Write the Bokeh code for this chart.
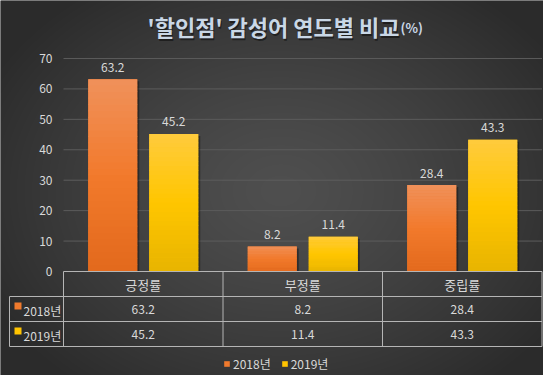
import numpy as np
from bokeh.plotting import figure
from bokeh.models import Range1d, ColumnDataSource, Legend, LegendItem
from bokeh.core.properties import value
from bokeh.embed import file_html
from bokeh.resources import INLINE

# ---------------- data ----------------
categories = ["긍정률", "부정률", "중립률"]
series_names = ["2018년", "2019년"]
values_2018 = [63.2, 8.2, 28.4]
values_2019 = [45.2, 11.4, 43.3]
y_ticks = [0, 10, 20, 30, 40, 50, 60, 70]
title_text = "'할인점' 감성어 연도별 비교"
title_unit = "(%)"

# ---------------- layout constants ----------------
FONT = "Noto Sans CJK KR"
W, H = 543, 375
PX_X = 159.5   # pixels per category
PX_Y = 3.043   # pixels per value unit
REF_X0, REF_Y0 = 63, 271   # reference pixel of (x=0, y=0)
PAGE = 0


def fx(px):
    return (px - REF_X0) / PX_X


def fy(py):
    return (REF_Y0 - py) / PX_Y


x_start, x_end = fx(PAGE), fx(PAGE + W)
y_top, y_bottom = fy(PAGE), fy(PAGE + H)

p = figure(width=W, height=H, output_backend="svg", toolbar_location=None,
           x_range=Range1d(x_start, x_end), y_range=Range1d(y_bottom, y_top),
           x_axis_location=None, y_axis_location=None, min_border=0)
p.grid.visible = False
p.outline_line_color = None
p.border_fill_color = "#333333"
p.background_fill_color = "#333333"

# ---------------- background radial gradient ----------------
yy, xx = np.mgrid[0:H, 0:W]
ref_x = xx + PAGE
ref_y = (H - 1 - yy) + PAGE
d = np.sqrt(((ref_x - 280) / 330.0) ** 2 + ((ref_y - 190) / 250.0) ** 2)
d = np.clip(d, 0, 1) ** 1.3
c = (0x4f + (0x2b - 0x4f) * d).astype(np.uint8)
img = np.empty((H, W), dtype=np.uint32)
view = img.view(dtype=np.uint8).reshape((H, W, 4))
view[:, :, 0] = c
view[:, :, 1] = c
view[:, :, 2] = c
view[:, :, 3] = 255
p.image_rgba(image=[img], x=x_start, y=y_bottom, dw=x_end - x_start, dh=y_top - y_bottom)

# ---------------- gridlines + tick labels ----------------
grid_vals = [t for t in y_ticks if t != 0]
p.segment(x0=[0] * len(grid_vals), x1=[3] * len(grid_vals), y0=grid_vals, y1=grid_vals,
          line_color="#5c5c5c", line_width=1)
p.text(x=[fx(52)] * len(y_ticks), y=y_ticks, text=[str(t) for t in y_ticks],
       text_align="right", text_baseline="middle", text_color="#d9d9d9",
       text_font=value(FONT), text_font_size="12px")

# ---------------- bars ----------------
cat_x = np.arange(len(categories)) + 0.5
off = 30.5 / PX_X
bw = 49 / PX_X

series = [
    (values_2018, -off, "#f07a2d", ("#e2691c", "#f27a2c", "#f0915b")),
    (values_2019, off, "#ffc400", ("#e8b400", "#ffc600", "#ffcb3d")),
]


def hex2rgb(h):
    h = h.lstrip("#")
    return np.array([int(h[i:i + 2], 16) for i in (0, 2, 4)], dtype=float)


def grad(stops, t):
    b, m, tp = [hex2rgb(s) for s in stops]
    if t < 0.5:
        col = b + (m - b) * (t / 0.5)
    else:
        col = m + (tp - m) * ((t - 0.5) / 0.5)
    return "#%02x%02x%02x" % tuple(int(round(v)) for v in col)


renderers = []
N = 30
for vals, dx, solid, stops in series:
    vals = np.array(vals)
    # shadow
    p.vbar(x=cat_x + dx + 2 / PX_X, top=vals - 2 / PX_Y, bottom=0, width=bw,
           fill_color="black", fill_alpha=0.35, line_color=None)
    r = p.vbar(x=cat_x + dx, top=vals, bottom=0, width=bw, fill_color=solid, line_color=None)
    renderers.append(r)
    xs, bots, tops, cols = [], [], [], []
    for v, xc in zip(vals, cat_x + dx):
        for i in range(N):
            xs.append(xc)
            bots.append(v * i / N)
            tops.append(v * (i + 1) / N + (0 if i == N - 1 else v * 0.004))
            cols.append(grad(stops, (i + 0.5) / N))
    p.vbar(x=xs, bottom=bots, top=tops, width=bw, fill_color=cols, line_color=None)
    p.text(x=cat_x + dx, y=vals, text=[f"{v:.1f}" for v in vals], y_offset=-12,
           text_align="center", text_baseline="middle", text_color="#d9d9d9",
           text_font=value(FONT), text_font_size="12px")

# ---------------- data table ----------------
row_h = 25 / PX_Y
left = fx(9)
line_col = "#b5b5b5"
hx0 = [0, left, left, left]
hy = [0, -row_h, -2 * row_h, -3 * row_h]
p.segment(x0=hx0, x1=[3] * 4, y0=hy, y1=hy, line_color=line_col, line_width=1)
vx = [left, 0, 1, 2, 3]
vy0 = [-row_h, 0, 0, 0, 0]
p.segment(x0=vx, x1=vx, y0=vy0, y1=[-3 * row_h] * 5, line_color=line_col, line_width=1)

p.text(x=cat_x, y=[-row_h / 2] * 3, text=categories, text_align="center",
       text_baseline="middle", text_color="#d9d9d9", text_font=value(FONT),
       text_font_size="13px")

colors_solid = ["#f07a2d", "#ffc400"]
for k, (vals, name) in enumerate(zip([values_2018, values_2019], series_names)):
    yc = -(1.5 + k) * row_h
    p.text(x=cat_x, y=[yc] * 3, text=[f"{v:.1f}" for v in vals], text_align="center",
           text_baseline="middle", text_color="#d9d9d9", text_font=value(FONT),
           text_font_size="12px")
    p.scatter(x=[fx(17.5)], y=[yc + 3 / PX_Y], marker="square", size=7,
              fill_color=colors_solid[k], line_color=None)
    p.text(x=[fx(23)], y=[yc - 1 / PX_Y], text=[name], text_align="left",
           text_baseline="middle", text_color="#d9d9d9", text_font=value(FONT),
           text_font_size="12px")

# ---------------- title ----------------
p.text(x=[fx(399)], y=[fy(25)], text=[title_text], x_offset=1, y_offset=2,
       text_align="right", text_baseline="middle", text_color="black", text_alpha=0.45,
       text_font=value(FONT), text_font_size="22px", text_font_style="bold")
p.text(x=[fx(399)], y=[fy(25)], text=[title_text], text_align="right",
       text_baseline="middle", text_color="#c9d7e6", text_font=value(FONT),
       text_font_size="22px", text_font_style="bold")
p.text(x=[fx(400)], y=[fy(27)], text=[title_unit], text_align="left",
       text_baseline="middle", text_color="#c9d7e6", text_font=value(FONT),
       text_font_size="13px", text_font_style="bold")

# ---------------- legend ----------------
legend = Legend(items=[LegendItem(label=series_names[0], renderers=[renderers[0]]),
                       LegendItem(label=series_names[1], renderers=[renderers[1]])],
                orientation="horizontal", location=(223 - PAGE, H + PAGE - 372),
                glyph_width=7, glyph_height=7, label_standoff=3, spacing=10,
                padding=0, margin=0, label_height=14, label_width=20,
                border_line_alpha=0, background_fill_alpha=0,
                label_text_color="#d9d9d9", label_text_font=FONT,
                label_text_font_size="12px", label_text_baseline="middle")
p.add_layout(legend)

open("out.html", "w").write(file_html(p, INLINE))
